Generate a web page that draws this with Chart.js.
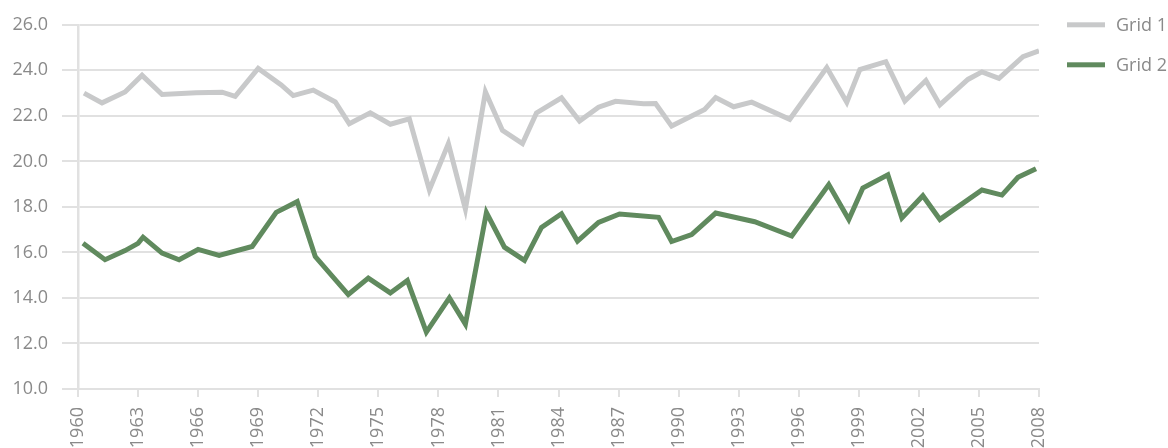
<!DOCTYPE html>
<html>
<head>
<meta charset="utf-8">
<script src="https://cdn.jsdelivr.net/npm/chart.js@4/dist/chart.umd.min.js"></script>
<style>
  html, body { margin: 0; padding: 0; background: #ffffff; }
  #wrap { width: 1168px; height: 448px; position: relative; }
</style>
</head>
<body>
<div id="wrap"><canvas id="c"></canvas></div>
<script>
const seriesNames = ["Grid 1", "Grid 2"];

const grid1Years = [1960.3, 1961.2, 1962.35, 1963.2, 1964.2, 1965.9, 1967.2, 1967.85, 1969.0, 1970.15,
  1970.75, 1971.75, 1972.85, 1973.55, 1974.6, 1975.6, 1976.55, 1977.55, 1978.5, 1979.35,
  1980.35, 1981.2, 1982.2, 1982.9, 1984.15, 1985.05, 1986.0, 1986.85, 1988.25, 1988.85,
  1989.65, 1991.3, 1991.85, 1992.75, 1993.65, 1995.55, 1997.4, 1998.4, 1999.05, 2000.35,
  2001.3, 2002.35, 2003.05, 2004.45, 2005.15, 2006.0, 2007.2, 2008.0];
const grid1Values = [23.0, 22.57, 23.05, 23.78, 22.94, 23.02, 23.04, 22.86, 24.08, 23.36,
  22.89, 23.13, 22.61, 21.65, 22.13, 21.63, 21.87, 18.75, 20.78, 17.9,
  23.05, 21.36, 20.78, 22.13, 22.79, 21.77, 22.38, 22.64, 22.53, 22.54,
  21.55, 22.28, 22.8, 22.4, 22.6, 21.85, 24.12, 22.6, 24.03, 24.38,
  22.65, 23.55, 22.48, 23.6, 23.93, 23.65, 24.6, 24.86];

const grid2Years = [1960.25, 1961.35, 1962.35, 1963.0, 1963.25, 1964.2, 1965.05, 1966.0, 1967.05, 1968.7,
  1969.9, 1970.95, 1971.85, 1973.5, 1974.5, 1975.6, 1976.45, 1977.4, 1978.55, 1979.35,
  1980.4, 1981.3, 1982.3, 1983.15, 1984.15, 1984.95, 1986.0, 1987.05, 1989.0, 1989.65,
  1990.65, 1991.85, 1993.8, 1995.65, 1997.5, 1998.5, 1999.2, 2000.45, 2001.15, 2002.2,
  2003.05, 2005.15, 2006.15, 2006.95, 2007.85];
const grid2Values = [16.4, 15.68, 16.08, 16.4, 16.67, 15.97, 15.68, 16.13, 15.87, 16.26,
  17.76, 18.23, 15.82, 14.15, 14.87, 14.22, 14.77, 12.5, 14.0, 12.85,
  17.75, 16.23, 15.65, 17.1, 17.7, 16.5, 17.32, 17.69, 17.54, 16.48,
  16.78, 17.73, 17.35, 16.72, 18.98, 17.45, 18.83, 19.41, 17.51, 18.49,
  17.45, 18.74, 18.52, 19.3, 19.68];

const xMin = 1960, xMax = 2008, xStep = 3;
const yMin = 10, yMax = 26, yStep = 2;

const colors = ["#c8c9ca", "#608a5e"];
const gridColor = "#e1e1e1";
const textColor = "#8a8a8a";
const fontFamily = "'Open Sans', 'Noto Sans', sans-serif";
const fontSize = 18;

function pts(xs, ys) { return xs.map((x, i) => ({ x: x, y: ys[i] })); }

Chart.defaults.font.family = fontFamily;
Chart.defaults.font.size = fontSize;
Chart.defaults.color = textColor;

// Simple right-hand legend drawn next to the plot area
const sideLegend = {
  id: "sideLegend",
  afterDraw(chart) {
    const ctx = chart.ctx;
    const area = chart.chartArea;
    ctx.save();
    ctx.font = fontSize + "px " + fontFamily;
    ctx.textBaseline = "middle";
    ctx.textAlign = "left";
    chart.data.datasets.forEach((ds, i) => {
      const y = area.top + i * 40;
      const x0 = area.right + 28;
      ctx.fillStyle = ds.borderColor;
      ctx.fillRect(x0, y - 2.5, 38, 5);
      ctx.fillStyle = textColor;
      ctx.fillText(ds.label, x0 + 49, y + 1);
    });
    ctx.restore();
  }
};

new Chart(document.getElementById("c"), {
  type: "line",
  data: {
    datasets: [
      { label: seriesNames[0], data: pts(grid1Years, grid1Values), borderColor: colors[0], backgroundColor: colors[0],
        borderWidth: 5, pointRadius: 0, tension: 0, fill: false },
      { label: seriesNames[1], data: pts(grid2Years, grid2Values), borderColor: colors[1], backgroundColor: colors[1],
        borderWidth: 5, pointRadius: 0, tension: 0, fill: false }
    ]
  },
  options: {
    responsive: true,
    maintainAspectRatio: false,
    animation: false,
    layout: { padding: { top: 23, left: 0, right: 129, bottom: 0 } },
    plugins: {
      tooltip: { enabled: false },
      legend: { display: false }
    },
    scales: {
      x: {
        type: "linear",
        min: xMin, max: xMax,
        afterFit(s) { s.height = 59; },
        grid: { drawOnChartArea: false, drawTicks: true, tickLength: 8, color: gridColor, lineWidth: 2 },
        border: { display: true, color: gridColor, width: 2 },
        ticks: {
          stepSize: xStep,
          autoSkip: false,
          maxRotation: 90, minRotation: 90,
          padding: 10,
          color: textColor,
          callback: v => String(v)
        }
      },
      y: {
        min: yMin, max: yMax,
        afterFit(s) { s.width = 78; },
        grid: { color: gridColor, lineWidth: 2, tickLength: 16 },
        border: { display: true, color: gridColor, width: 2.5 },
        ticks: { stepSize: yStep, padding: 14, color: textColor, callback: v => v.toFixed(1) }
      }
    }
  },
  plugins: [sideLegend]
});
</script>
</body>
</html>
